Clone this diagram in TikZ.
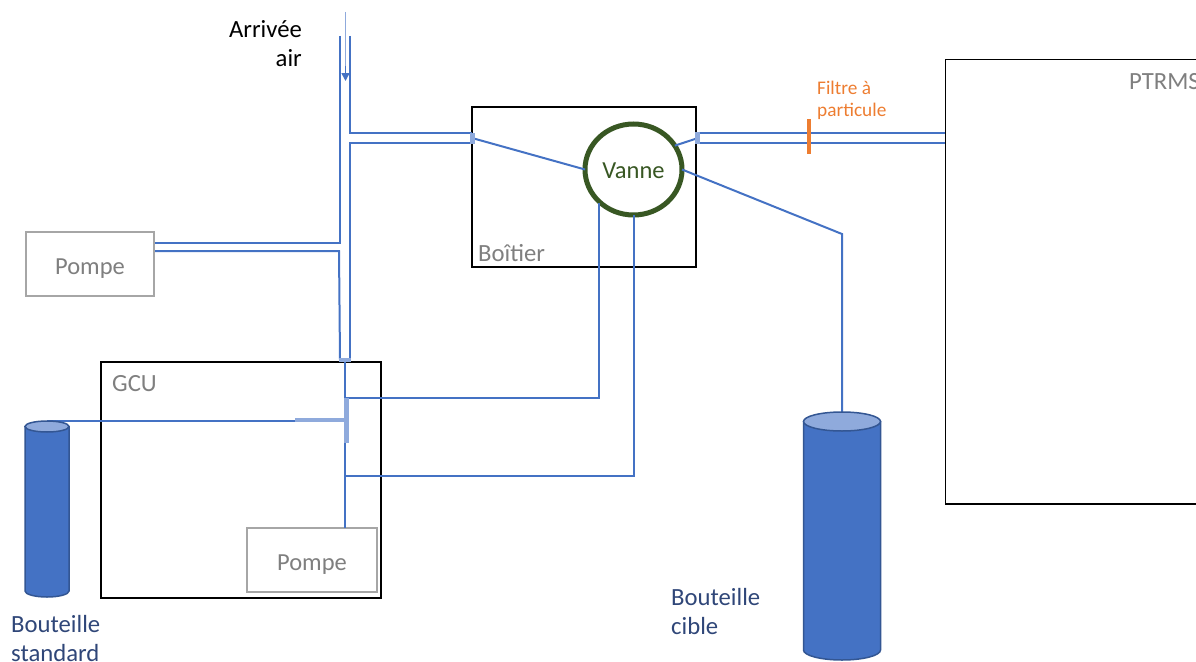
\documentclass[tikz,border=0pt]{standalone}
\usepackage{fontspec}
\setmainfont{Carlito}
\usetikzlibrary{arrows.meta,shapes.geometric}
\definecolor{pipe}{HTML}{4472C4}
\definecolor{lightpipe}{HTML}{8FAADC}
\definecolor{darkgreen}{HTML}{385723}
\definecolor{orangef}{HTML}{ED7D31}
\definecolor{navytxt}{HTML}{2F4678}
\definecolor{graybox}{HTML}{A6A6A6}
\definecolor{graytxt}{HTML}{7F7F7F}
\tikzset{
  x=1pt,y=-1pt,
  pipeline/.style={draw=pipe,line width=2pt},
  thickjoint/.style={draw=lightpipe,line width=4.5pt},
  blackbox/.style={draw=black,line width=1.8pt,fill=none,inner sep=0pt,outer sep=0pt,anchor=north west},
  pumpbox/.style={draw=graybox,line width=2pt,fill=white,inner sep=0pt,outer sep=0pt,anchor=north west,text=graytxt,font=\fontsize{24.5}{24.5}\selectfont},
  lbl/.style={inner sep=0pt,font=\fontsize{24.7}{29}\selectfont},
  cylbody/.style={fill=pipe,draw=pipe!75!black,line width=1.5pt},
  cyltop/.style={fill=lightpipe,draw=pipe!75!black,line width=1.5pt},
}
\begin{document}
\begin{tikzpicture}
\useasboundingbox (0,0) rectangle (1196,661);
% boxes
\node[blackbox,minimum width=224pt,minimum height=160pt] (boitier) at (472,107) {};
\node[blackbox,minimum width=280pt,minimum height=236pt] (gcu) at (101,362) {};
\draw[draw=black,line width=1.8pt] (1196,59.5) coordinate (pa) -- (945.5,59.5) coordinate (pb) -- (945.5,504) coordinate (pc) -- (1196,504) coordinate (pd);
\node[pumpbox,minimum width=128pt,minimum height=64pt] (pump1) at (26,232) {\smash{\raisebox{-10pt}{Pompe}}};
\node[pumpbox,minimum width=130pt,minimum height=64pt] (pump2) at (247,528) {\smash{\raisebox{-10pt}{Pompe}}};
% valve
\node[ellipse,draw=darkgreen,line width=5pt,minimum width=97pt,minimum height=91pt,inner sep=0pt,outer sep=0pt,text=darkgreen,font=\fontsize{24.5}{24.5}\selectfont,fill=white] (vanne) at (633.5,169.5) {\smash{\raisebox{-8.5pt}{Vanne}}};
% named joints
\coordinate (inL) at (340,36);
\coordinate (inR) at (350,36);
\coordinate (a1) at (340,243);
\coordinate (a2) at (155,243);
\coordinate (b1) at (155,251);
\coordinate (b2) at (339,251);
\coordinate (b3) at (340,360);
\coordinate (c1) at (350,133);
\coordinate (c2) at (472,133);
\coordinate (d1) at (472,143);
\coordinate (d2) at (350,143);
\coordinate (d3) at (350,360);
\coordinate (capL) at (339,360);
\coordinate (capM) at (345,360);
\coordinate (capR) at (351,360);
\coordinate (pumpTop) at (345,528);
\coordinate (j1) at (345,398);
\coordinate (j1b) at (598.5,398);
\coordinate (j1c) at (598.5,203);
\coordinate (j2) at (345,476);
\coordinate (j2b) at (633.5,476);
\coordinate (tTop) at (346.5,398);
\coordinate (tBot) at (346.5,443);
\coordinate (tMid) at (348,420);
\coordinate (tLeft) at (295,420);
\coordinate (stdTop) at (47,421);
\coordinate (tLine) at (295,421);
\coordinate (sideL) at (472,138);
\coordinate (rj) at (698,138);
\coordinate (r1a) at (699,133);
\coordinate (r1b) at (945,133);
\coordinate (r2a) at (699,143);
\coordinate (r2b) at (945,143);
\coordinate (t1) at (842,234);
\coordinate (t2) at (842,412);
\coordinate (airTop) at (345.5,12);
\coordinate (airMid) at (345.5,66);
\coordinate (airEnd) at (345.5,81);
% pipes
\draw[pipeline,line join=miter] (inL) -- (a1) -- (a2);
\draw[pipeline] (b1) -- (b2) -- (b3);
\draw[pipeline] (inR) -- (c1) -- (c2);
\draw[pipeline] (d1) -- (d2) -- (d3);
\draw[draw=lightpipe,line width=1.6pt] (airTop) -- (airMid);
\draw[draw=pipe,line width=1.6pt,-{Triangle[length=8pt,width=8pt]}] (airMid) -- (airEnd);
\draw[pipeline] (capM) -- (pumpTop);
\draw[pipeline] (j1) -- (j1b) -- (j1c);
\draw[pipeline] (j2) -- (j2b) -- (vanne.south);
\draw[pipeline] (stdTop) -- (tLine);
\draw[pipeline] (sideL) -- (vanne.west);
\draw[pipeline] (rj) -- (vanne.30);
\draw[pipeline] (r1a) -- (r1b);
\draw[pipeline] (r2a) -- (r2b);
\draw[pipeline] (vanne.east) -- (t1) -- (t2);
% light joints
\draw[thickjoint] (capL) -- (capR);
\draw[thickjoint] (tTop) -- (tBot);
\draw[thickjoint] (tLeft) -- (tMid);
\draw[draw=lightpipe,line width=4.5pt] (472.5,133) coordinate (s1) -- (472.5,144) coordinate (s2);
\draw[draw=lightpipe,line width=4.5pt] (697.5,132) coordinate (s3) -- (697.5,144) coordinate (s4);
% filter
\draw[draw=orangef,line width=4.5pt] (809,119) coordinate (f1) -- (809,154) coordinate (f2);
% cylinders
\draw[cylbody] (25,426.5) -- (25,591) arc[start angle=180,end angle=0,x radius=22,y radius=6] -- (69,426.5) -- cycle;
\draw[cyltop] (47,426.5) ellipse[x radius=22,y radius=5.5];
\draw[cylbody] (803.5,421.5) -- (803.5,650) arc[start angle=180,end angle=0,x radius=38.5,y radius=10] -- (880.5,421.5) -- cycle;
\draw[cyltop] (842,421.5) ellipse[x radius=38.5,y radius=9.5];
% labels
\node[lbl,align=right,anchor=north east] (air) at (302,20) {Arrivée\\air};
\node[lbl,anchor=north west,text=graytxt] (tp) at (1129,73) {PTRMS};
\node[lbl,anchor=north west,text=graytxt] (tb) at (478,244) {Boîtier};
\node[lbl,anchor=north west,text=graytxt] (tg) at (112,375) {GCU};
\node[inner sep=0pt,anchor=north west,align=left,text=orangef,font=\fontsize{19.3}{22.5}\selectfont] (tf) at (817,80.5) {Filtre à\\particule};
\node[lbl,anchor=north west,align=left,text=navytxt] (tc) at (671,588) {Bouteille\\cible};
\node[lbl,anchor=north west,align=left,text=navytxt] (ts) at (11,615) {Bouteille\\standard};
\end{tikzpicture}
\end{document}
